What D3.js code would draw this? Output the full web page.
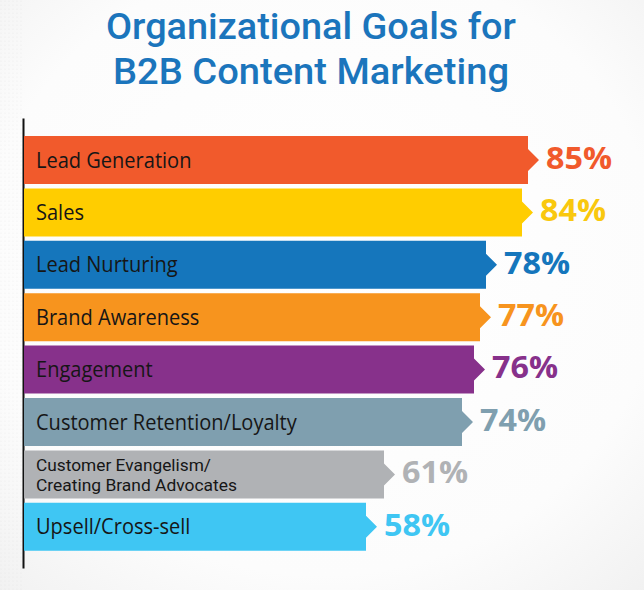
<!DOCTYPE html>
<html>
<head>
<meta charset="utf-8">
<script src="https://cdn.jsdelivr.net/npm/d3@7"></script>
<style>
  html, body { margin: 0; padding: 0; background: #fff; }
  svg { display: block; }
</style>
</head>
<body>
<svg id="chart" width="644" height="590"></svg>
<script>
const titleLines = ["Organizational Goals for", "B2B Content Marketing"];
const categories = [
  "Lead Generation",
  "Sales",
  "Lead Nurturing",
  "Brand Awareness",
  "Engagement",
  "Customer Retention/Loyalty",
  "Customer Evangelism/\nCreating Brand Advocates",
  "Upsell/Cross-sell"
];
const values = [85, 84, 78, 77, 76, 74, 61, 58];
const colors = ["#f15a2c", "#ffcd00", "#1576bc", "#f7941e", "#87318b", "#7f9faf", "#b0b2b5", "#3fc6f3"];
const labelColors = ["#f15a2c", "#f9c80e", "#1576bc", "#f7941e", "#87318b", "#7f9faf", "#b0b2b5", "#3fc6f3"];

const W = 644, H = 590;
const svg = d3.select("#chart");

// background
const defs = svg.append("defs");
const rg = defs.append("radialGradient").attr("id", "bg")
  .attr("cx", "50%").attr("cy", "45%").attr("r", "75%");
rg.append("stop").attr("offset", "0%").attr("stop-color", "#ffffff");
rg.append("stop").attr("offset", "70%").attr("stop-color", "#fcfcfc");
rg.append("stop").attr("offset", "100%").attr("stop-color", "#f1f1f1");
svg.append("rect").attr("width", W).attr("height", H).attr("fill", "url(#bg)");

const pat = defs.append("pattern").attr("id", "dots").attr("width", 4).attr("height", 4)
  .attr("patternUnits", "userSpaceOnUse");
pat.append("circle").attr("cx", 1).attr("cy", 1).attr("r", 0.6).attr("fill", "#d8d8d8");
const mask = defs.append("mask").attr("id", "leftMask");
mask.append("rect").attr("width", 22).attr("height", H).attr("fill", "#555");
svg.append("rect").attr("width", 22).attr("height", H).attr("fill", "url(#dots)").attr("mask", "url(#leftMask)");

// scales
const x = d3.scaleLinear().domain([0, 100]).range([18, 618]);
const y = d3.scaleBand().domain(categories).range([136, 550.8]).paddingInner(0.084).paddingOuter(0);
const x0 = 24;

// title
const title = svg.append("g").attr("class", "title");
const titleY = [39, 84];
const titleTargets = [410, 396];
titleLines.forEach((t, i) => {
  title.append("text")
    .attr("x", 311).attr("y", titleY[i])
    .attr("text-anchor", "middle")
    .attr("font-family", "Roboto, 'Open Sans', sans-serif")
    .attr("font-weight", 500)
    .attr("font-size", 37)
    .attr("fill", "#1b75bc")
    .attr("textLength", titleTargets[i]).attr("lengthAdjust", "spacingAndGlyphs")
    .text(t);
});

// axis
const yAxisScale = d3.scaleLinear().domain([0, 1]).range([118, 568]);
const axisG = svg.append("g").attr("transform", `translate(23,0)`)
  .call(d3.axisLeft(yAxisScale).tickValues([]).tickSizeOuter(0));
axisG.select(".domain").attr("stroke", "#111").attr("stroke-width", 2);

// bars with arrow notch
const ah = 11, al = 11;
svg.append("g").selectAll("path").data(categories).join("path")
  .attr("d", (c, i) => {
    const top = y(c), bot = y(c) + y.bandwidth(), mid = (top + bot) / 2, xe = x(values[i]);
    return `M${x0},${top}H${xe}V${mid - ah}L${xe + al},${mid}L${xe},${mid + ah}V${bot}H${x0}Z`;
  })
  .attr("fill", (c, i) => colors[i]);

// category labels
const labFont = 21.2;
const compress = 0.945;
const labG = svg.append("g");
categories.forEach((c, i) => {
  const lines = c.split("\n");
  const mid = y(c) + y.bandwidth() / 2;
  if (lines.length === 1) {
    const t = labG.append("text")
      .attr("x", 36).attr("y", mid + labFont * 0.357)
      .attr("font-family", "'Open Sans', sans-serif")
      .attr("font-size", labFont)
      .attr("fill", "#161616")
      .text(lines[0]);
    const w = t.node().getComputedTextLength();
    t.attr("textLength", w * compress).attr("lengthAdjust", "spacingAndGlyphs");
  } else {
    const fs = 16.6;
    const bl = [mid - 3.2, mid + 16.3];
    const targets = [175, 201];
    lines.forEach((ln, j) => {
      labG.append("text")
        .attr("x", 36).attr("y", bl[j])
        .attr("font-family", "Roboto, sans-serif")
        .attr("font-size", fs)
        .attr("fill", "#161616")
        .attr("textLength", targets[j]).attr("lengthAdjust", "spacingAndGlyphs")
        .text(ln);
    });
  }
});

// value labels
const valFont = 30.5;
const valG = svg.append("g");
categories.forEach((c, i) => {
  const mid = y(c) + y.bandwidth() / 2;
  const t = valG.append("text")
    .attr("x", x(values[i]) + al + 7)
    .attr("y", mid - 2 + valFont * 0.357)
    .attr("font-family", "'Open Sans', sans-serif")
    .attr("font-weight", 700)
    .attr("font-size", valFont)
    .attr("fill", labelColors[i])
    .text(values[i] + "%");
  const w = t.node().getComputedTextLength();
  t.attr("textLength", w * 1.06).attr("lengthAdjust", "spacingAndGlyphs");
});
</script>
</body>
</html>
